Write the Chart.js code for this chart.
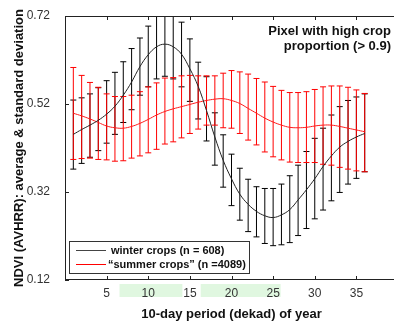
<!DOCTYPE html>
<html>
<head>
<meta charset="utf-8">
<script src="https://cdn.jsdelivr.net/npm/chart.js@4.4.1/dist/chart.umd.min.js"></script>
<style>
    html, body { margin: 0; padding: 0; background: #fff; overflow: hidden; }
    #wrap { position: relative; width: 400px; height: 323px; }
</style>
</head>
<body>
<div id="wrap"><canvas id="chart"></canvas></div>
<script>
// dekads of the year
const dekads = [1, 2, 3, 4, 5, 6, 7, 8, 9, 10, 11, 12, 13, 14, 15, 16, 17, 18,
    19, 20, 21, 22, 23, 24, 25, 26, 27, 28, 29, 30, 31, 32, 33, 34, 35, 36];

// winter crops: smoothed average and the ends of the standard deviation bars
const winterMean = [0.451, 0.462, 0.472, 0.483, 0.497, 0.515, 0.540, 0.570, 0.605, 0.632, 0.650, 0.656,
    0.650, 0.633, 0.600, 0.560, 0.505, 0.445, 0.392, 0.350, 0.315, 0.292, 0.276, 0.266,
    0.262, 0.268, 0.280, 0.302, 0.325, 0.350, 0.378, 0.402, 0.422, 0.435, 0.445, 0.453];
const winterUpper = [0.529, 0.534, 0.543, 0.557, 0.573, 0.592, 0.616, 0.646, 0.670, 0.697, 0.725, 0.734,
    0.727, 0.706, 0.668, 0.615, 0.582, 0.500, 0.450, 0.406, 0.374, 0.349, 0.332, 0.328,
    0.328, 0.338, 0.357, 0.381, 0.412, 0.442, 0.465, 0.495, 0.514, 0.528, 0.536, 0.543];
const winterLower = [0.372, 0.385, 0.399, 0.414, 0.431, 0.451, 0.478, 0.507, 0.540, 0.559, 0.577, 0.583,
    0.577, 0.559, 0.526, 0.486, 0.436, 0.381, 0.331, 0.289, 0.256, 0.230, 0.218, 0.203,
    0.198, 0.200, 0.205, 0.221, 0.237, 0.259, 0.279, 0.300, 0.319, 0.338, 0.351, 0.366];

// summer crops
const summerMean = [0.499, 0.493, 0.486, 0.478, 0.470, 0.466, 0.465, 0.469, 0.476, 0.485, 0.495, 0.503,
    0.509, 0.514, 0.519, 0.524, 0.528, 0.531, 0.532, 0.528, 0.521, 0.510, 0.499, 0.488,
    0.479, 0.472, 0.467, 0.466, 0.467, 0.470, 0.472, 0.472, 0.469, 0.465, 0.461, 0.457];
const summerUpper = [0.603, 0.585, 0.569, 0.558, 0.543, 0.537, 0.537, 0.540, 0.548, 0.559, 0.568, 0.579,
    0.580, 0.584, 0.585, 0.584, 0.584, 0.584, 0.590, 0.596, 0.593, 0.588, 0.578, 0.570,
    0.560, 0.551, 0.546, 0.546, 0.548, 0.553, 0.559, 0.561, 0.561, 0.558, 0.552, 0.544];
const summerLower = [0.394, 0.396, 0.397, 0.394, 0.393, 0.390, 0.391, 0.397, 0.402, 0.409, 0.417, 0.429,
    0.434, 0.443, 0.453, 0.463, 0.472, 0.472, 0.466, 0.465, 0.453, 0.438, 0.427, 0.411,
    0.400, 0.393, 0.388, 0.387, 0.387, 0.387, 0.383, 0.381, 0.376, 0.372, 0.368, 0.366];

const xTicks = [5, 10, 15, 20, 25, 30, 35];
const yTicks = [0.12, 0.32, 0.52, 0.72];

// green bands under the x axis (start, end in dekads)
const bandStart = [6.55, 16.3];
const bandEnd = [14.1, 25.9];

const seriesLabels = ["winter crops (n = 608)", "\u201Csummer crops\u201D (n =4089)"];
const titleLines = ["Pixel with high crop", "proportion (> 0.9)"];

const FONT = "'Liberation Sans', Arial, sans-serif";

// shaded bands behind the x tick labels
const bands = {
    id: "bands",
    beforeDraw(chart) {
        const { ctx, scales: { x }, chartArea: a } = chart;
        ctx.save();
        ctx.fillStyle = "#e0f7e0";
        bandStart.forEach((s, i) => {
            const x1 = x.getPixelForValue(s), x2 = x.getPixelForValue(bandEnd[i]);
            ctx.fillRect(x1, a.bottom + 4, x2 - x1, 13);
        });
        ctx.restore();
    },
};

// vertical standard deviation bars with caps
const errorBars = {
    id: "errorBars",
    beforeDatasetsDraw(chart) {
        const { ctx, chartArea: a, scales: { x, y } } = chart;
        ctx.save();
        ctx.beginPath();
        ctx.rect(a.left, a.top, a.right - a.left, a.bottom - a.top);
        ctx.clip();
        ctx.lineWidth = 1;
        [[winterLower, winterUpper, "#000"], [summerLower, summerUpper, "#ff0000"]].forEach(([lo, hi, col]) => {
            ctx.strokeStyle = col;
            dekads.forEach((d, i) => {
                const px = x.getPixelForValue(d);
                const y1 = y.getPixelForValue(hi[i]);
                const y2 = y.getPixelForValue(lo[i]);
                ctx.beginPath();
                ctx.moveTo(px, y1); ctx.lineTo(px, y2);
                ctx.moveTo(px - 3, y1); ctx.lineTo(px + 3, y1);
                ctx.moveTo(px - 3, y2); ctx.lineTo(px + 3, y2);
                ctx.stroke();
            });
        });
        ctx.restore();
    },
};

// box, inward ticks, title and legend
const frame = {
    id: "frame",
    afterDatasetsDraw(chart) {
        const { ctx, chartArea: a, scales: { x, y } } = chart;
        ctx.save();
        ctx.strokeStyle = "#222";
        ctx.lineWidth = 1;
        ctx.strokeRect(a.left + 0.5, a.top + 0.5, a.right - a.left - 1, a.bottom - a.top - 1);
        ctx.beginPath();
        xTicks.forEach((v) => {
            const px = Math.round(x.getPixelForValue(v)) + 0.5;
            ctx.moveTo(px, a.top); ctx.lineTo(px, a.top + 4);
            ctx.moveTo(px, a.bottom); ctx.lineTo(px, a.bottom - 4);
        });
        yTicks.forEach((v) => {
            const py = Math.round(y.getPixelForValue(v)) + 0.5;
            ctx.moveTo(a.left, py); ctx.lineTo(a.left + 4, py);
            ctx.moveTo(a.right, py); ctx.lineTo(a.right - 4, py);
        });
        ctx.stroke();

        // title
        ctx.fillStyle = "#111";
        ctx.font = "bold 13px " + FONT;
        ctx.textAlign = "right";
        ctx.textBaseline = "middle";
        ctx.fillText(titleLines[0], 391, 31);
        ctx.fillText(titleLines[1], 391, 46);

        // legend
        ctx.fillStyle = "#fff";
        ctx.fillRect(69, 241, 180, 32);
        ctx.strokeStyle = "#333";
        ctx.strokeRect(69.5, 241.5, 180, 32);
        const cols = ["#444", "#ff0000"];
        const rows = [250, 264];
        ctx.font = "bold 11px " + FONT;
        ctx.textAlign = "left";
        seriesLabels.forEach((lab, i) => {
            ctx.strokeStyle = cols[i];
            ctx.beginPath();
            ctx.moveTo(76, rows[i] + 0.5); ctx.lineTo(106, rows[i] + 0.5);
            ctx.stroke();
            ctx.fillStyle = "#111";
            ctx.fillText(lab, i === 0 ? 111 : 108, rows[i] + 1);
        });
        ctx.restore();
    },
};

const ctx = document.getElementById("chart").getContext("2d");

new Chart(ctx, {
    type: "line",
    data: {
        datasets: [
            {
                label: seriesLabels[0],
                data: dekads.map((d, i) => ({ x: d, y: winterMean[i] })),
                borderColor: "#222",
                borderWidth: 1,
                pointRadius: 0,
                tension: 0.4,
                fill: false,
            },
            {
                label: seriesLabels[1],
                data: dekads.map((d, i) => ({ x: d, y: summerMean[i] })),
                borderColor: "#ff1a1a",
                borderWidth: 1,
                pointRadius: 0,
                tension: 0.4,
                fill: false,
            },
        ],
    },
    options: {
        responsive: true,
        maintainAspectRatio: false,
        animation: false,
        layout: { padding: { top: 16, right: 2, left: 0, bottom: 0 } },
        plugins: {
            legend: { display: false },
            title: { display: false },
            tooltip: { enabled: false },
        },
        scales: {
            x: {
                type: "linear",
                min: 0,
                max: 40,
                afterBuildTicks: (s) => { s.ticks = xTicks.map((v) => ({ value: v })); },
                afterFit: (s) => { s.height = 43; },
                grid: { display: false },
                border: { display: false },
                ticks: {
                    padding: -2,
                    color: "#333",
                    font: { family: FONT, size: 12 },
                    maxRotation: 0,
                },
                title: {
                    display: true,
                    text: "10-day period (dekad) of year",
                    color: "#111",
                    font: { family: FONT, size: 13, weight: "bold" },
                    padding: { top: 0, bottom: 1 },
                },
            },
            y: {
                min: 0.12,
                max: 0.72,
                afterBuildTicks: (s) => { s.ticks = yTicks.map((v) => ({ value: v })); },
                afterFit: (s) => { s.width = 65; },
                grid: { display: false },
                border: { display: false },
                ticks: {
                    padding: 7,
                    color: "#333",
                    font: { family: FONT, size: 12 },
                    callback: (v) => v.toFixed(2),
                },
                title: {
                    display: true,
                    text: "NDVI (AVHRR): average & standard deviation",
                    color: "#111",
                    font: { family: FONT, size: 13, weight: "bold" },
                    padding: { top: 12, bottom: 0 },
                },
            },
        },
    },
    plugins: [bands, errorBars, frame],
});
</script>
</body>
</html>
